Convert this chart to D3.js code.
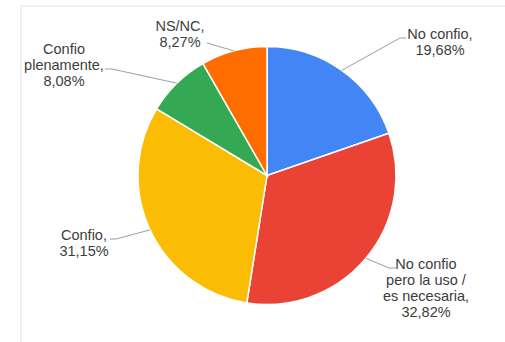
<!DOCTYPE html>
<html>
<head>
<meta charset="utf-8">
<script src="https://cdn.jsdelivr.net/npm/d3@7"></script>
<style>
  html, body { margin: 0; padding: 0; background: #fff; }
  svg { display: block; }
</style>
</head>
<body>
<div id="chart"></div>
<script>
// Survey answers and their shares (percent)
const categories = ["No confio", "No confio pero la uso / es necesaria", "Confio", "Confio plenamente", "NS/NC"];
const values = [19.68, 32.82, 31.15, 8.08, 8.27];
const valueLabels = ["19,68%", "32,82%", "31,15%", "8,08%", "8,27%"];
const labelLines = [
  ["No confio,"],
  ["No confio", "pero la uso /", "es necesaria,"],
  ["Confio,"],
  ["Confio", "plenamente,"],
  ["NS/NC,"]
];
const colors = ["#4285f4", "#ea4335", "#fbbc04", "#34a853", "#ff6d01"];

// Label placement: text centre, first baseline, leader elbow and end
const labelLayout = [
  { cx: 440, y: 38.5, elbow: [400, 38], end: [406, 38] },
  { cx: 426, y: 268.5, elbow: [389, 268], end: [396, 268] },
  { cx: 84, y: 240, elbow: [116, 239], end: [110, 239] },
  { cx: 64, y: 54, elbow: [112, 69], end: [105, 69] },
  { cx: 180, y: 30.5, elbow: [207, 43], end: [207, 43] }
];

const width = 505, height = 342;
const cx = 267, cy = 175.5, radius = 129;
const lineHeight = 16.2;

const svg = d3.select("#chart").append("svg")
  .attr("width", width).attr("height", height);

// Frame lines
svg.append("line").attr("x1", 21).attr("y1", 6).attr("x2", width).attr("y2", 6)
  .attr("stroke", "#ececec").attr("stroke-width", 1.5);
svg.append("line").attr("x1", 21).attr("y1", 6).attr("x2", 21).attr("y2", height)
  .attr("stroke", "#ececec").attr("stroke-width", 1.5);

const data = categories.map((c, i) => ({ category: c, value: values[i], i }));

const pie = d3.pie().sort(null).value(d => d.value);
const arcs = pie(data);
const arc = d3.arc().innerRadius(0).outerRadius(radius);

const g = svg.append("g").attr("transform", `translate(${cx},${cy})`);

g.selectAll("path.slice")
  .data(arcs)
  .join("path")
  .attr("class", "slice")
  .attr("d", arc)
  .attr("fill", d => colors[d.data.i])
  .attr("stroke", "#fff")
  .attr("stroke-width", 1.5);

// Leader lines from the rim at each slice's mid angle
const line = d3.line();
svg.selectAll("path.leader")
  .data(arcs)
  .join("path")
  .attr("class", "leader")
  .attr("fill", "none")
  .attr("stroke", "#9e9e9e")
  .attr("stroke-width", 1)
  .attr("d", d => {
    const a = (d.startAngle + d.endAngle) / 2;
    const p0 = [cx + radius * Math.sin(a), cy - radius * Math.cos(a)];
    const L = labelLayout[d.data.i];
    return line([p0, L.elbow, L.end]);
  });

// Labels: category lines followed by the percentage
const labels = svg.selectAll("text.label")
  .data(arcs)
  .join("text")
  .attr("class", "label")
  .attr("text-anchor", "middle")
  .attr("font-family", "'Liberation Sans', Arial, sans-serif")
  .attr("font-size", 14.5)
  .attr("fill", "#3d3d3d");

labels.each(function(d) {
  const L = labelLayout[d.data.i];
  const lines = labelLines[d.data.i].concat([valueLabels[d.data.i]]);
  d3.select(this).selectAll("tspan")
    .data(lines)
    .join("tspan")
    .attr("x", L.cx)
    .attr("y", (t, k) => L.y + k * lineHeight)
    .text(t => t);
});
</script>
</body>
</html>
